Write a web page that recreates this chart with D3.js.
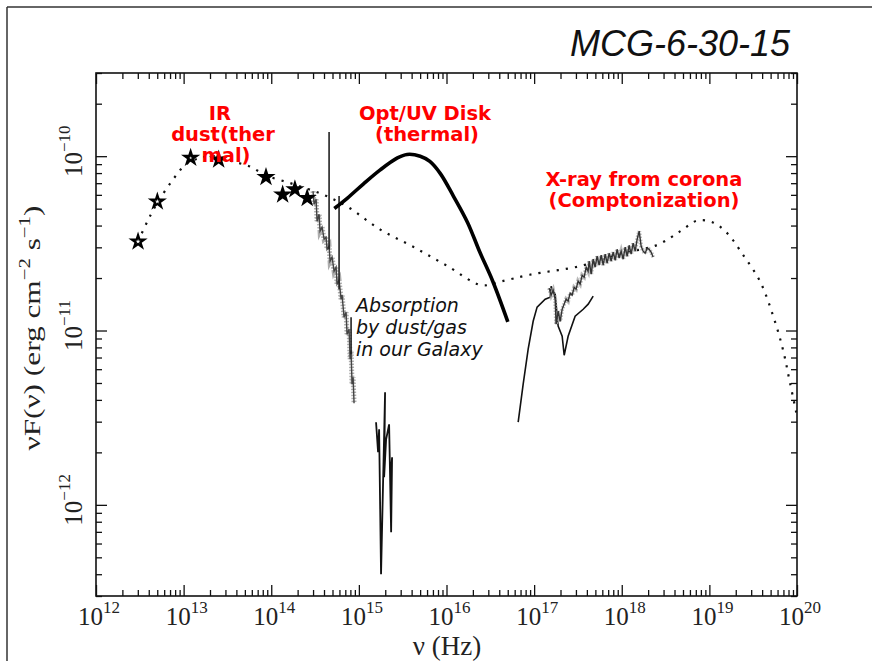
<!DOCTYPE html>
<html><head><meta charset="utf-8">
<script src="https://cdn.jsdelivr.net/npm/d3@7"></script>
<style>body{margin:0;background:#fff}svg{display:block}</style>
</head><body>
<svg id="c" width="872" height="661"></svg>
<script>
// ---------- data (log10 values) ----------
const xDecades = [12, 13, 14, 15, 16, 17, 18, 19, 20];
const yDecades = [-12, -11, -10];
const chartTitle = "MCG-6-30-15";

// IR photometry (stars)
const starLogNu   = [12.48, 12.70, 13.08, 13.40, 13.94, 14.13, 14.27, 14.41];
const starLogFlux = [-10.49, -10.26, -10.01, -10.02, -10.12, -10.22, -10.19, -10.24];

// dotted broadband model
const modelLogNu   = [12.48,12.59,12.71,12.87,13.02,13.19,13.36,13.56,13.76,13.94,14.25,14.59,14.87,15.24,15.62,16.01,16.40,16.61,16.95,17.53,17.98,18.40,18.67,18.86,19.04,19.20,19.39,19.58,19.73,19.84,19.92,20.0];
const modelLogFlux = [-10.49,-10.37,-10.26,-10.14,-10.05,-10.01,-10.0,-10.03,-10.06,-10.11,-10.16,-10.22,-10.29,-10.42,-10.52,-10.63,-10.74,-10.72,-10.68,-10.63,-10.56,-10.51,-10.43,-10.37,-10.38,-10.44,-10.57,-10.72,-10.92,-11.11,-11.30,-11.49];

// thick Opt/UV disk curve
const diskLogNu   = [14.72,14.87,15.05,15.24,15.44,15.55,15.70,15.81,15.93,16.08,16.24,16.38,16.53,16.70];
const diskLogFlux = [-10.30,-10.24,-10.16,-10.08,-10.01,-9.99,-10.0,-10.03,-10.10,-10.23,-10.38,-10.55,-10.72,-10.95];

// optical/UV spectrum (noisy)
const optLogNu   = [14.477,14.489,14.512,14.523,14.546,14.557,14.580,14.603,14.626,14.637,14.660,14.671,14.694,14.717,14.740,14.751,14.774,14.797,14.808,14.831,14.854,14.865,14.888,14.900,14.911,14.922,14.934,14.945];
const optLogFlux = [-10.201,-10.275,-10.247,-10.373,-10.333,-10.430,-10.407,-10.476,-10.465,-10.534,-10.516,-10.602,-10.579,-10.660,-10.637,-10.734,-10.711,-10.820,-10.797,-10.924,-10.895,-11.021,-10.993,-11.165,-11.119,-11.308,-11.268,-11.417];

// emission-line spikes
const spikeLogNu     = [14.660, 14.774, 14.911];
const spikeLogTop    = [-9.862, -10.229, -10.924];
const spikeLogBottom = [-10.534, -10.763, -11.136];

// EUV points
const euvLogNu   = [15.196,15.219,15.231,15.253,15.299,15.288,15.311,15.345,15.368,15.379,15.356];
const euvLogFlux = [-11.526,-11.698,-11.566,-12.398,-11.354,-11.842,-11.624,-11.538,-12.157,-11.727,-11.853];

// X-ray, lower branch
const xLoLogNu   = [16.818,16.875,16.932,16.989,17.034,17.126,17.183,17.194,17.217,17.240,17.274,17.320,17.343,17.388,17.468,17.560,17.617,17.674];
const xLoLogFlux = [-11.526,-11.308,-11.107,-10.947,-10.866,-10.820,-10.809,-10.746,-10.775,-10.792,-10.975,-11.033,-11.142,-11.033,-10.918,-10.878,-10.849,-10.803];

// X-ray, upper noisy branch
const xHiLogNu   = [17.171,17.194,17.217,17.240,17.251,17.274,17.297,17.320,17.342,17.365,17.388,17.411,17.434,17.457,17.479,17.502,17.525,17.548,17.571,17.594,17.616,17.628,17.651,17.674,17.696,17.719,17.742,17.765,17.788,17.811,17.833,17.856,17.879,17.902,17.925,17.947,17.970,17.993,18.016,18.039,18.062,18.084,18.107,18.130,18.153,18.176,18.199,18.221,18.244,18.267,18.290,18.313,18.336,18.358];
const xHiLogFlux = [-10.757,-10.797,-10.769,-10.820,-10.964,-10.889,-10.947,-10.878,-10.849,-10.820,-10.832,-10.786,-10.797,-10.752,-10.763,-10.717,-10.734,-10.683,-10.694,-10.637,-10.660,-10.602,-10.677,-10.591,-10.637,-10.574,-10.625,-10.568,-10.625,-10.562,-10.614,-10.557,-10.602,-10.551,-10.597,-10.534,-10.585,-10.545,-10.591,-10.522,-10.574,-10.511,-10.562,-10.499,-10.545,-10.476,-10.430,-10.516,-10.545,-10.557,-10.528,-10.534,-10.551,-10.579];

// annotations
const labelIR = ["IR", "dust(ther", "mal)"];
const labelDisk = ["Opt/UV Disk", "(thermal)"];
const labelXray = ["X-ray from corona", "(Comptonization)"];
const labelAbs = ["Absorption", "by dust/gas", "in our Galaxy"];

// ---------- drawing ----------
const svg = d3.select("#c");
const L = 96, R = 797, T = 73, B = 596;
const x = d3.scaleLog().domain([1e12, 1e20]).range([L, R]);
const y = d3.scaleLog().domain([3e-13, 3e-10]).range([B, T]);
const p = (a, b) => d3.zip(a, b).map(([u, v]) => [Math.pow(10, u), Math.pow(10, v)]);

// slide border
svg.append("line").attr("x1", 7).attr("y1", 7).attr("x2", 872).attr("y2", 7).attr("stroke", "#333").attr("stroke-width", 1.5);
svg.append("line").attr("x1", 7).attr("y1", 7).attr("x2", 7).attr("y2", 661).attr("stroke", "#333").attr("stroke-width", 1.5);

// title
svg.append("text").attr("x", 790).attr("y", 56).attr("text-anchor", "end")
  .style("font-family", "'Liberation Sans', Arial, sans-serif").style("font-style", "italic")
  .style("font-size", "36px").attr("fill", "#111").text(chartTitle);

// ticks
const xMajor = xDecades.map(d => Math.pow(10, d));
const xMinor = [];
xDecades.slice(0, -1).forEach(d => { for (let k = 2; k <= 9; k++) xMinor.push(k * Math.pow(10, d)); });
const yMajor = yDecades.map(d => Math.pow(10, d));
const yMinor = [];
[-13, -12, -11, -10].forEach(d => { for (let k = 2; k <= 9; k++) { const v = k * Math.pow(10, d); if (v >= 3e-13 && v <= 3e-10) yMinor.push(v); } });

function ax(gen, tr, vals, size) {
  const g = svg.append("g").attr("transform", tr)
    .call(gen.tickValues(vals).tickSizeInner(-size).tickSizeOuter(0).tickFormat(""));
  g.select(".domain").remove();
  g.selectAll("line").attr("stroke", "#111").attr("stroke-width", 1.3);
}
ax(d3.axisBottom(x), `translate(0,${B})`, xMajor, 11);
ax(d3.axisBottom(x), `translate(0,${B})`, xMinor, 6);
ax(d3.axisTop(x), `translate(0,${T})`, xMajor, 11);
ax(d3.axisTop(x), `translate(0,${T})`, xMinor, 6);
ax(d3.axisLeft(y), `translate(${L},0)`, yMajor, 11);
ax(d3.axisLeft(y), `translate(${L},0)`, yMinor, 6);
ax(d3.axisRight(y), `translate(${R},0)`, yMajor, 11);
ax(d3.axisRight(y), `translate(${R},0)`, yMinor, 6);

svg.append("rect").attr("x", L).attr("y", T).attr("width", R - L).attr("height", B - T)
  .attr("fill", "none").attr("stroke", "#111").attr("stroke-width", 1.6);

const serif = "'Liberation Serif', 'Times New Roman', serif";
// x tick labels
xDecades.forEach(d => {
  const t = svg.append("text").attr("x", x(Math.pow(10, d)) + 3).attr("y", 625)
    .attr("text-anchor", "middle").style("font-family", serif).style("font-size", "25px").attr("fill", "#222");
  t.append("tspan").text("10");
  t.append("tspan").attr("dy", -12).style("font-size", "17px").text(String(d));
});
// y tick labels (rotated)
yDecades.forEach(d => {
  const t = svg.append("text").attr("transform", `translate(82,${y(Math.pow(10, d))}) rotate(-90)`)
    .attr("x", 5).attr("text-anchor", "middle").style("font-family", serif).style("font-size", "25px").attr("fill", "#222");
  t.append("tspan").text("10");
  t.append("tspan").attr("dy", -12).style("font-size", "17px").text("\u2212" + String(-d));
});
// axis titles
svg.append("text").attr("x", 447).attr("y", 655).attr("text-anchor", "middle")
  .style("font-family", serif).style("font-size", "27px").attr("fill", "#222").text("\u03bd (Hz)");
{
  const t = svg.append("text").attr("transform", "translate(40,328) rotate(-90)").attr("text-anchor", "middle")
    .attr("textLength", 245).attr("lengthAdjust", "spacingAndGlyphs")
    .style("font-family", serif).style("font-size", "24px").attr("fill", "#222");
  t.append("tspan").text("\u03bdF(\u03bd) (erg cm");
  t.append("tspan").attr("dy", -10).style("font-size", "16px").text("\u22122");
  t.append("tspan").attr("dy", 10).text(" s");
  t.append("tspan").attr("dy", -10).style("font-size", "16px").text("\u22121");
  t.append("tspan").attr("dy", 10).text(")");
}

const line = d3.line().x(d => x(d[0])).y(d => y(d[1]));
svg.append("clipPath").attr("id", "pc").append("rect").attr("x", L).attr("y", T).attr("width", R - L).attr("height", B - T);
const plot = svg.append("g").attr("clip-path", "url(#pc)");

// dotted model
plot.append("path").datum(p(modelLogNu, modelLogFlux))
  .attr("d", d3.line().x(d => x(d[0])).y(d => y(d[1])).curve(d3.curveCatmullRom.alpha(0.5)))
  .attr("fill", "none").attr("stroke", "#111").attr("stroke-width", 2.2).attr("stroke-dasharray", "2.2 7");

// optical spectrum (fuzzy band)
plot.append("path").datum(p(optLogNu, optLogFlux)).attr("d", line)
  .attr("fill", "none").attr("stroke", "#999").attr("stroke-width", 5).attr("stroke-dasharray", "1.5 1.5").attr("opacity", 0.8);
plot.append("path").datum(p(optLogNu, optLogFlux)).attr("d", line)
  .attr("fill", "none").attr("stroke", "#444").attr("stroke-width", 1.4);
// spikes
d3.range(spikeLogNu.length).forEach(i => {
  plot.append("line")
    .attr("x1", x(Math.pow(10, spikeLogNu[i]))).attr("x2", x(Math.pow(10, spikeLogNu[i])))
    .attr("y1", y(Math.pow(10, spikeLogTop[i]))).attr("y2", y(Math.pow(10, spikeLogBottom[i])))
    .attr("stroke", "#222").attr("stroke-width", 1.6);
});
// EUV
plot.append("path").datum(p(euvLogNu, euvLogFlux)).attr("d", line)
  .attr("fill", "none").attr("stroke", "#111").attr("stroke-width", 1.8);
// X-ray
plot.append("path").datum(p(xLoLogNu, xLoLogFlux)).attr("d", line)
  .attr("fill", "none").attr("stroke", "#111").attr("stroke-width", 1.6);
plot.append("path").datum(p(xHiLogNu, xHiLogFlux)).attr("d", line)
  .attr("fill", "none").attr("stroke", "#aaa").attr("stroke-width", 4).attr("stroke-dasharray", "1.5 1.5").attr("opacity", 0.8);
plot.append("path").datum(p(xHiLogNu, xHiLogFlux)).attr("d", line)
  .attr("fill", "none").attr("stroke", "#333").attr("stroke-width", 1.4);

// disk thick curve
plot.append("path").datum(p(diskLogNu, diskLogFlux))
  .attr("d", d3.line().x(d => x(d[0])).y(d => y(d[1])).curve(d3.curveCatmullRom.alpha(0.5)))
  .attr("fill", "none").attr("stroke", "#000").attr("stroke-width", 3.6);

// stars
const star = d3.symbol().type(d3.symbolStar);
p(starLogNu, starLogFlux).forEach((d, i) => {
  const g = plot.append("g").attr("transform", `translate(${x(d[0])},${y(d[1])})`);
  g.append("path").attr("d", star.size(115)()).attr("fill", "#000");
  if (i < 2) g.append("path").attr("d", star.size(7)()).attr("fill", "#fff");
  else if (i < 4) g.append("path").attr("d", star.size(3)()).attr("fill", "#fff");
});

// red annotations
const bold = "'DejaVu Sans', Verdana, sans-serif";
function redBlock(lines, cx, y0, dx) {
  lines.forEach((s, i) => svg.append("text").attr("x", cx + (dx ? dx[i] : 0)).attr("y", y0 + i * 21)
    .attr("text-anchor", "middle").style("font-family", bold).style("font-weight", "bold")
    .style("font-size", "19.5px").attr("fill", "#ff0000").text(s));
}
redBlock(labelIR, 221, 120, [-1, 2, 5]);
redBlock(labelDisk, 425, 120, [0, 2]);
redBlock(labelXray, 644, 186);

labelAbs.forEach((s, i) => svg.append("text").attr("x", 356).attr("y", 312 + i * 22)
  .style("font-family", bold).style("font-style", "italic").style("font-size", "19px")
  .attr("fill", "#111").text(s));
</script></body></html>
